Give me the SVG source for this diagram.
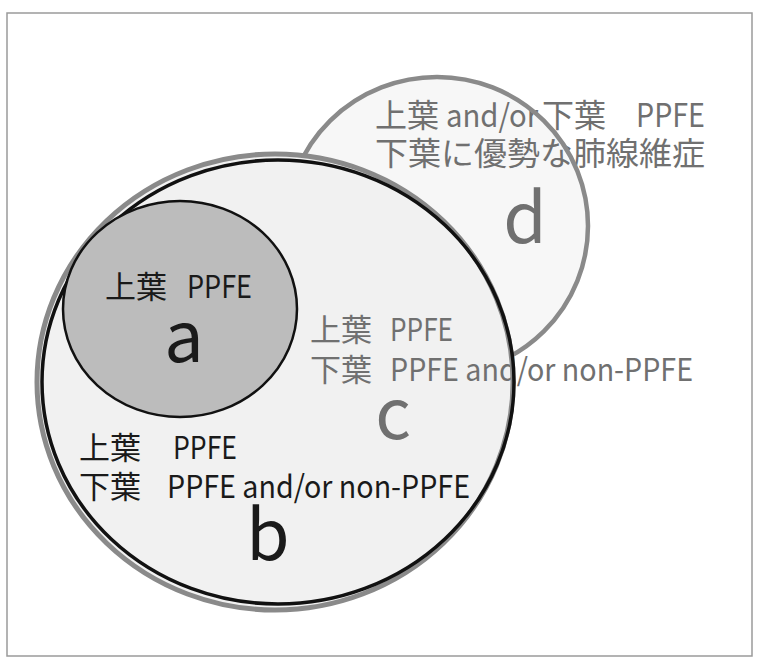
<svg xmlns="http://www.w3.org/2000/svg" width="760" height="668" viewBox="0 0 760 668">
<style>
text{font-family:'Noto Sans CJK JP','Noto Sans',sans-serif}
.g{fill:#707070}
.k{fill:#1a1a1a}
.t{font-size:31px}
.t32{font-size:32px}
.big{font-size:70px;text-anchor:middle}
.gs{fill:none;stroke:#8a8a8a}
</style>
<rect x="7" y="13" width="745" height="643" fill="#ffffff" stroke="#9a9a9a" stroke-width="1.5"/>
<g id="connectors"></g>
<g id="node-d">
<ellipse cx="437" cy="226" rx="151" ry="149" fill="#f7f7f7"/>
<text class="g t32" y="127"><tspan x="375">上葉</tspan><tspan x="446" textLength="92" lengthAdjust="spacingAndGlyphs">and/or</tspan><tspan x="542">下葉</tspan><tspan x="636" textLength="69" lengthAdjust="spacingAndGlyphs">PPFE</tspan></text>
<text class="g t32" x="375" y="165" textLength="330" lengthAdjust="spacingAndGlyphs">下葉に優勢な肺線維症</text>
<text class="g big" x="525" y="243">d</text>
<ellipse class="gs" cx="437" cy="226" rx="151" ry="149" stroke-width="4.5"/>
</g>
<g id="node-c">
<ellipse cx="275" cy="382" rx="238" ry="228" fill="#f1f1f1"/>
<text class="g t" y="341"><tspan x="310">上葉</tspan><tspan x="390" textLength="63" lengthAdjust="spacingAndGlyphs">PPFE</tspan></text>
<text class="g t" y="381"><tspan x="310">下葉</tspan><tspan x="390" textLength="303" lengthAdjust="spacingAndGlyphs">PPFE and/or non-PPFE</tspan></text>
<text class="g big" x="393" y="439">c</text>
<ellipse class="gs" cx="275" cy="382" rx="238" ry="228" stroke-width="5"/>
</g>
<g id="node-b">
<ellipse cx="278" cy="382" rx="236" ry="222" fill="none" stroke="#111" stroke-width="3.5"/>
<text class="k t" y="459"><tspan x="79">上葉</tspan><tspan x="173" textLength="64" lengthAdjust="spacingAndGlyphs">PPFE</tspan></text>
<text class="k t" y="498"><tspan x="79">下葉</tspan><tspan x="167" textLength="303" lengthAdjust="spacingAndGlyphs">PPFE and/or non-PPFE</tspan></text>
<text class="k big" x="268" y="560">b</text>
</g>
<g id="node-a">
<ellipse cx="180" cy="309" rx="117" ry="108" fill="#bcbcbc" stroke="#111" stroke-width="2.5"/>
<text class="k t" y="298"><tspan x="105">上葉</tspan><tspan x="187" textLength="65" lengthAdjust="spacingAndGlyphs">PPFE</tspan></text>
<text class="k big" x="184" y="362">a</text>
</g>
</svg>
